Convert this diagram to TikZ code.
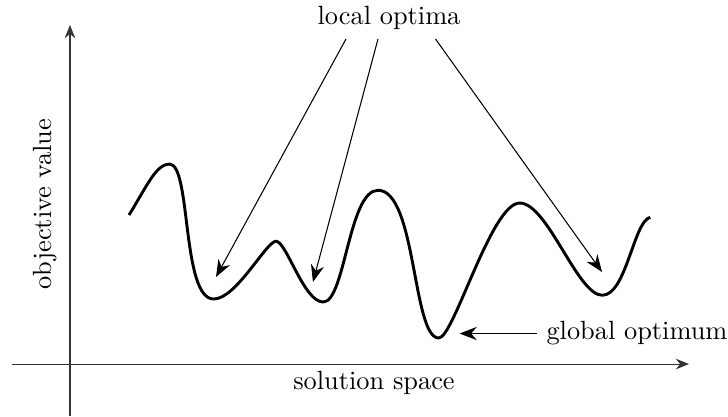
\documentclass[tikz,border=0pt]{standalone}
\usetikzlibrary{arrows.meta}

\begin{document}
\begin{tikzpicture}[
	axis/.style={-{Stealth[length=5pt,width=4pt]}, color=black!80},
	pointer/.style={-{Stealth[length=6.5pt,width=5pt]}},
	landscape/.style={line width=1.1pt, line join=round}]
	\useasboundingbox (0,0) rectangle (9.707,5.547);
	% axes
	\draw[axis] (0.155,0.693) -- (9.187,0.693);
	\draw[axis] (0.933,0) -- (0.933,5.213);
	\node (xlab) at (4.987,0.44) {solution space};
	\node[rotate=90] (ylab) at (0.6,2.827) {objective value};
	% objective landscape
	\draw[landscape] (1.72,2.68)
		.. controls (1.95,3.05) and (2.08,3.36) .. (2.26,3.36)
		.. controls (2.55,3.36) and (2.42,1.56) .. (2.85,1.56)
		.. controls (3.15,1.56) and (3.55,2.33) .. (3.68,2.33)
		.. controls (3.82,2.33) and (4.05,1.52) .. (4.31,1.52)
		.. controls (4.6,1.52) and (4.65,3.01) .. (5.04,3.01)
		.. controls (5.55,3.01) and (5.5,1.04) .. (5.85,1.04)
		.. controls (6.05,1.04) and (6.55,2.84) .. (6.93,2.84)
		.. controls (7.3,2.84) and (7.7,1.61) .. (8.03,1.61)
		.. controls (8.35,1.61) and (8.45,2.6) .. (8.67,2.65);
	% optima
	\coordinate (m1) at (2.88,1.853);
	\coordinate (m2) at (4.173,1.787);
	\coordinate (m3) at (8.027,1.92);
	\coordinate (mg) at (6.128,1.1);
	\node (local) at (5.187,5.307) {local optima};
	\node[anchor=west] (global) at (7.163,1.1) {global optimum};
	\draw[pointer] ([xshift=-0.574cm]local.south) -- (m1);
	\draw[pointer] ([xshift=-0.147cm]local.south) -- (m2);
	\draw[pointer] ([xshift=0.62cm]local.south) -- (m3);
	\draw[pointer] (global.west) -- (mg);
\end{tikzpicture}
\end{document}
